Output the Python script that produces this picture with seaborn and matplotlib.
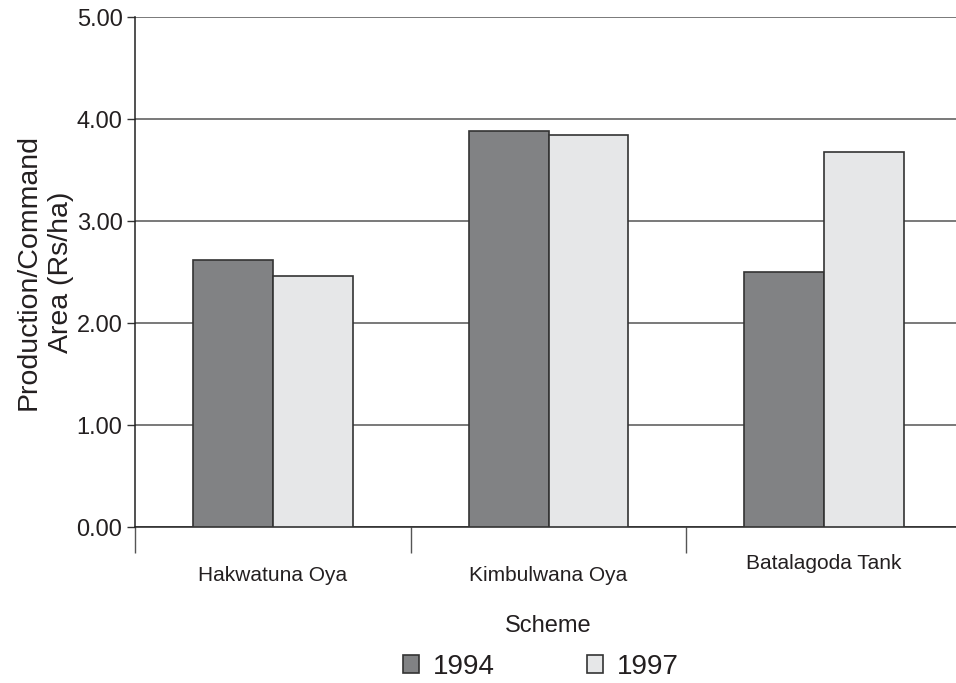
import pandas as pd
import seaborn as sns
import matplotlib.pyplot as plt
from matplotlib.transforms import ScaledTranslation

# Valores
schemes = ["Hakwatuna Oya", "Kimbulwana Oya", "Batalagoda Tank"]
years = ["1994", "1997"]
vals_1994 = [2.62, 3.88, 2.50]
vals_1997 = [2.46, 3.84, 3.68]
y_ticks = [0, 1, 2, 3, 4, 5]

df = pd.DataFrame({
    "scheme": schemes * 2,
    "year": [years[0]] * 3 + [years[1]] * 3,
    "value": vals_1994 + vals_1997,
})

sns.set_style("white")
plt.rcParams["font.family"] = ["Liberation Sans", "DejaVu Sans"]
plt.rcParams["text.color"] = "#231f20"
plt.rcParams["axes.labelcolor"] = "#231f20"
plt.rcParams["xtick.color"] = "#231f20"
plt.rcParams["ytick.color"] = "#231f20"

fig = plt.figure(figsize=(9.56, 6.83), dpi=100)
ax = fig.add_axes([0.1412, 0.2284, 0.8651, 0.7467])

colors = {"1994": "#818284", "1997": "#e6e7e8"}
sns.barplot(data=df, x="scheme", y="value", hue="year", palette=colors,
            width=0.58, edgecolor="#333333", linewidth=1.2, ax=ax, zorder=3)

ax.set_xlim(-0.5, 2.5)
ax.set_ylim(0, 5)
ax.set_yticks(y_ticks)
ax.set_yticklabels([f"{v:.2f}" for v in y_ticks], fontsize=17)
ax.yaxis.grid(True, color="#555555", linewidth=1.1, zorder=0)
ax.set_axisbelow(True)

# ticks entre categorias
ax.set_xticks([-0.5, 0.5, 1.5, 2.5], minor=True)
ax.tick_params(axis="x", which="minor", bottom=True, length=19, width=1,
               color="#555555", direction="out")
ax.tick_params(axis="x", which="major", bottom=False, length=0, pad=28, labelsize=15)
ax.tick_params(axis="y", left=True, length=6, width=1, color="#333333", pad=3)

# la etiqueta de Batalagoda esta un poco mas arriba
lbl = ax.get_xticklabels()[2]
lbl.set_transform(lbl.get_transform() + ScaledTranslation(0, 0.12, fig.dpi_scale_trans))

for s in ["top", "right"]:
    ax.spines[s].set_visible(False)
for s in ["left", "bottom"]:
    ax.spines[s].set_color("#222222")
    ax.spines[s].set_linewidth(1.1)

ax.set_xlabel("Scheme", fontsize=17, labelpad=22)
ax.set_ylabel("Production/Command\nArea (Rs/ha)", fontsize=20.5, labelpad=2, linespacing=1.3)

handles, labels = ax.get_legend_handles_labels()
ax.get_legend().remove()
fig.legend(handles, labels, loc="center", bbox_to_anchor=(0.566, 0.024), ncol=2,
           frameon=False, fontsize=20, handlelength=0.58, handleheight=0.6,
           handletextpad=0.5, columnspacing=3.3)

plt.savefig("out.png", dpi=100)
